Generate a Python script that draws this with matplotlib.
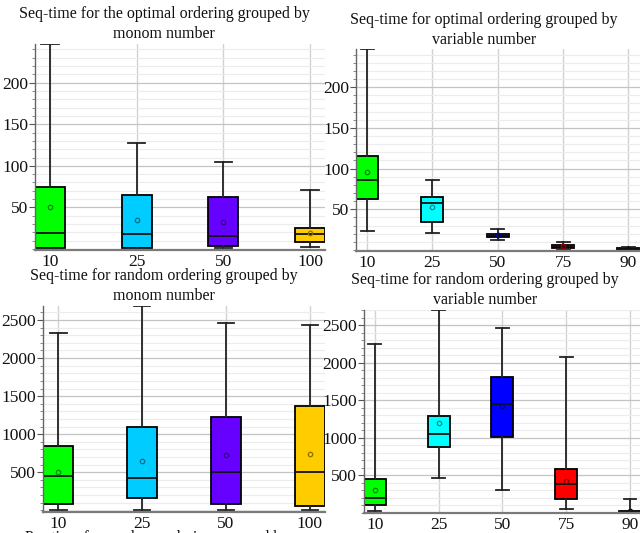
import matplotlib
matplotlib.use("Agg")
import matplotlib.pyplot as plt
from matplotlib.ticker import MultipleLocator
from matplotlib.colors import to_rgb

plt.rcParams['font.family'] = ['Liberation Serif', 'DejaVu Serif']

# categories
monoms = ['10', '25', '50', '100']
variables = ['10', '25', '50', '75', '90']

# colours
monom_colors = ['#00ff00', '#00ccff', '#6600ff', '#ffcc00']
var_colors = ['#00ff00', '#00ffff', '#0000ff', '#ff0000', '#1a1a1a']

# optimal ordering, grouped by monom number
opt_mon_min = [0.2, 0.3, 0.7, 2.3]
opt_mon_q1 = [1.5, 0.7, 3.1, 7.9]
opt_mon_med = [18.8, 17.9, 15.2, 17.6]
opt_mon_q3 = [74.1, 64.5, 62.5, 25.5]
opt_mon_max = [246.6, 127.4, 104.2, 70.9]
opt_mon_mean = [50.8, 34.8, 32.7, 19.1]

# optimal ordering, grouped by variable number
opt_var_min = [23.4, 21.3, 12.7, 1.5, 0.3]
opt_var_q1 = [63.1, 34.8, 16.0, 2.5, 0.6]
opt_var_med = [86.5, 57.4, 18.1, 4.5, 1.2]
opt_var_q3 = [115.6, 64.8, 19.7, 6.5, 2.1]
opt_var_max = [246.9, 86.1, 25.5, 9.8, 3.7]
opt_var_mean = [96.3, 53.3, 18.0, 5.0, 1.5]

# random ordering, grouped by monom number
rnd_mon_min = [5, 5, 5, 9]
rnd_mon_q1 = [79, 162, 83, 53]
rnd_mon_med = [447, 430, 504, 504]
rnd_mon_q3 = [846, 1096, 1220, 1368]
rnd_mon_max = [2333, 2684, 2461, 2434]
rnd_mon_mean = [509, 645, 728, 746]

# random ordering, grouped by variable number
rnd_var_min = [24, 469, 304, 56, 3]
rnd_var_q1 = [104, 882, 1003, 184, 7]
rnd_var_med = [203, 1051, 1447, 380, 16]
rnd_var_q3 = [451, 1287, 1803, 584, 27]
rnd_var_max = [2247, 2700, 2456, 2077, 189]
rnd_var_mean = [304, 1193, 1420, 424, 20]

W, H = 640, 533
fig = plt.figure(figsize=(6.4, 5.33), dpi=100)


def add_axes(x0, x1, ytop, ybot):
    # pixel box (from top-left) -> figure fraction
    return fig.add_axes([x0 / W, (H - ybot) / H, (x1 - x0) / W, (ybot - ytop) / H])


def draw_panel(ax, labels, colors, lo, q1, med, q3, hi, mean, ylim, major, minor, xlim, bw):
    stats = []
    for i in range(len(labels)):
        stats.append(dict(whislo=lo[i], q1=q1[i], med=med[i], q3=q3[i],
                          whishi=hi[i], mean=mean[i], fliers=[]))
    pos = list(range(1, len(labels) + 1))
    ax.set_axisbelow(True)
    art = ax.bxp(stats, positions=pos, widths=bw, capwidths=0.2, patch_artist=True,
                 showmeans=True, showfliers=False,
                 boxprops=dict(edgecolor='black', linewidth=1.3),
                 whiskerprops=dict(color='#222222', linewidth=1.3),
                 capprops=dict(color='#222222', linewidth=1.3),
                 medianprops=dict(color='#111111', linewidth=1.3),
                 meanprops=dict(marker='o', markersize=3.2, markerfacecolor='none',
                                markeredgewidth=0.9))
    for box, c in zip(art['boxes'], colors):
        box.set_facecolor(c)
    for m, c in zip(art['means'], colors):
        r, g, b = to_rgb(c)
        m.set_markeredgecolor((r * 0.55, g * 0.55, b * 0.55))
    ax.set_xlim(*xlim)
    ax.set_ylim(*ylim)
    ax.set_xticks(pos)
    ax.set_xticklabels(labels)
    ax.yaxis.set_major_locator(MultipleLocator(major))
    ax.yaxis.set_minor_locator(MultipleLocator(minor))
    ax.set_yticks([t for t in ax.get_yticks() if 0 < t <= ylim[1]])
    ax.set_ylim(*ylim)
    ax.tick_params(axis='x', length=0, labelsize=12.5, pad=3, colors='#111111')
    ax.tick_params(axis='y', which='major', length=4, width=0.8, labelsize=12.5,
                   pad=1, colors='#555555', labelcolor='#111111')
    ax.tick_params(axis='y', which='minor', length=2, width=0.6, colors='#777777')
    ax.grid(True, which='major', axis='y', color='#c4c4c4', linewidth=0.9)
    ax.grid(True, which='minor', axis='y', color='#ececec', linewidth=0.8)
    ax.grid(True, which='major', axis='x', color='#d2d2d2', linewidth=1.0)
    for s in ['top', 'right']:
        ax.spines[s].set_visible(False)
    ax.spines['left'].set_color('#666666')
    ax.spines['left'].set_linewidth(1.0)
    ax.spines['bottom'].set_color('#7a7a7a')
    ax.spines['bottom'].set_linewidth(1.6)
    ax.patch.set_alpha(0)


ax1 = add_axes(35, 325, 44, 250)
draw_panel(ax1, monoms, monom_colors, opt_mon_min, opt_mon_q1, opt_mon_med, opt_mon_q3,
           opt_mon_max, opt_mon_mean, (-1.3, 246.6), 50, 10, (0.827, 4.173), 0.346)

ax2 = add_axes(356, 661, 49, 251)
draw_panel(ax2, variables, var_colors, opt_var_min, opt_var_q1, opt_var_med, opt_var_q3,
           opt_var_max, opt_var_mean, (-1.2, 246.9), 50, 10, (0.83, 5.5), 0.337)

ax3 = add_axes(43, 325, 306, 512)
draw_panel(ax3, monoms, monom_colors, rnd_mon_min, rnd_mon_q1, rnd_mon_med, rnd_mon_q3,
           rnd_mon_max, rnd_mon_mean, (-22, 2684), 500, 100, (0.82, 4.18), 0.357)

ax4 = add_axes(364, 662, 310, 513)
draw_panel(ax4, variables, var_colors, rnd_var_min, rnd_var_q1, rnd_var_med, rnd_var_q3,
           rnd_var_max, rnd_var_mean, (-3, 2700), 500, 100, (0.83, 5.5), 0.345)

title_kw = dict(ha='center', va='center', fontsize=11.5, color='#111111', linespacing=1.25)
fig.text(164 / W, 1 - 24 / H, 'Seq-time for the optimal ordering grouped by\nmonom number', **title_kw)
fig.text(484 / W, 1 - 30 / H, 'Seq-time for optimal ordering grouped by\nvariable number', **title_kw)
fig.text(164 / W, 1 - 286 / H, 'Seq-time for random ordering grouped by\nmonom number', **title_kw)
fig.text(485 / W, 1 - 290 / H, 'Seq-time for random ordering grouped by\nvariable number', **title_kw)
# next panel title, cut off at the bottom edge
fig.text(25 / W, 1 - 530.5 / H, 'Par-time for random ordering grouped by', ha='left', va='top',
         fontsize=11.5, color='#111111')

fig.savefig('out.png', dpi=100)
